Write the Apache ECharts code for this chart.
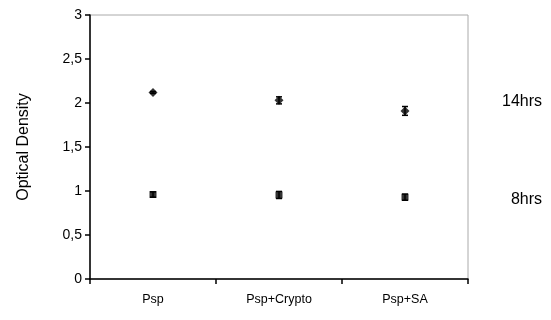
<!DOCTYPE html>
<html>
<head>
<meta charset="utf-8">
<script src="https://cdn.jsdelivr.net/npm/echarts@6/dist/echarts.min.js"></script>
<style>html,body{margin:0;padding:0;background:#fff}#c{width:551px;height:320px}</style>
</head>
<body>
<div id="c"></div>
<script>
var categories = ['Psp', 'Psp+Crypto', 'Psp+SA'];
var hrs14 = [2.12, 2.03, 1.91];
var hrs14Err = [0.01, 0.04, 0.05];
var hrs8 = [0.96, 0.955, 0.93];
var hrs8Err = [0.03, 0.04, 0.035];
var yTicks = [0, 0.5, 1, 1.5, 2, 2.5, 3];
var seriesNames = ['14hrs', '8hrs'];

var chart = echarts.init(document.getElementById('c'));
function errData(vals, errs) {
  return vals.map(function (v, i) { return [i, v - errs[i], v + errs[i]]; });
}
function renderErr(params, api) {
  var x = api.value(0);
  var lo = api.coord([x, api.value(1)]);
  var hi = api.coord([x, api.value(2)]);
  var w = 3;
  var st = { stroke: '#000', lineWidth: 1.5 };
  return { type: 'group', children: [
    { type: 'line', shape: { x1: hi[0], y1: hi[1], x2: lo[0], y2: lo[1] }, style: st },
    { type: 'line', shape: { x1: hi[0] - w, y1: hi[1], x2: hi[0] + w, y2: hi[1] }, style: st },
    { type: 'line', shape: { x1: lo[0] - w, y1: lo[1], x2: lo[0] + w, y2: lo[1] }, style: st }
  ]};
}
var font = 'Liberation Sans, Arial, sans-serif';
chart.setOption({
  animation: false,
  grid: { left: 90, right: 83, top: 15, bottom: 41, show: true, borderColor: '#aaa', borderWidth: 1 },
  xAxis: {
    type: 'category', data: categories, boundaryGap: true,
    axisLine: { lineStyle: { color: '#000', width: 1.5 } },
    axisTick: { show: true, length: 5, lineStyle: { color: '#000', width: 1.5 } },
    axisLabel: { color: '#000', fontSize: 12.5, fontFamily: font, margin: 14 },
    splitLine: { show: false }
  },
  yAxis: {
    type: 'value', min: yTicks[0], max: yTicks[yTicks.length - 1], interval: 0.5,
    name: 'Optical Density', nameLocation: 'middle', nameGap: 58, nameRotate: 90,
    nameTextStyle: { color: '#000', fontSize: 16, fontFamily: font },
    axisLine: { show: true, lineStyle: { color: '#000', width: 1.5 } },
    axisTick: { show: true, length: 5, lineStyle: { color: '#000', width: 1.5 } },
    axisLabel: { color: '#000', fontSize: 14, fontFamily: font, margin: 8,
      formatter: function (v) { return String(v).replace('.', ','); } },
    splitLine: { show: false }
  },
  series: [
    { name: seriesNames[0], type: 'scatter', data: hrs14, symbol: 'diamond', symbolSize: 9,
      itemStyle: { color: '#000' }, z: 3 },
    { name: seriesNames[1], type: 'scatter', data: hrs8, symbol: 'rect', symbolSize: 7,
      itemStyle: { color: '#000' }, z: 3 },
    { type: 'custom', data: errData(hrs14, hrs14Err), renderItem: renderErr, z: 4 },
    { type: 'custom', data: errData(hrs8, hrs8Err), renderItem: renderErr, z: 4 }
  ],
  graphic: [
    { type: 'text', right: 9, top: 94, style: { text: seriesNames[0], fill: '#000', font: '16px ' + font } },
    { type: 'text', right: 9, top: 192, style: { text: seriesNames[1], fill: '#000', font: '16px ' + font } }
  ]
});
</script>
</body>
</html>
